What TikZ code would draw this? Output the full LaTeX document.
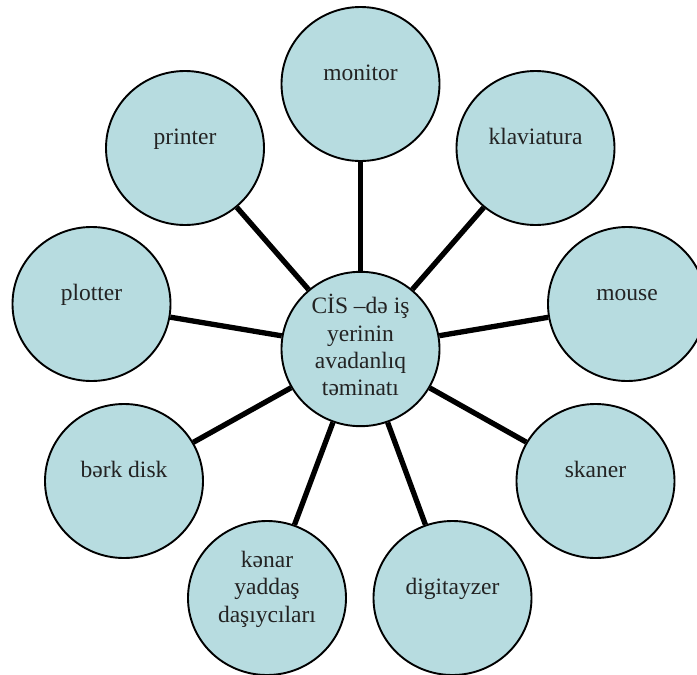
\documentclass[tikz,border=0pt]{standalone}
\usepackage{fontspec}
\setmainfont{Liberation Serif}
\usetikzlibrary{shapes.geometric}
\definecolor{bubblefill}{RGB}{183,220,224}
\definecolor{txt}{RGB}{35,35,35}
\tikzset{
  bubble/.style={ellipse, draw=black, line width=1.9pt, fill=bubblefill,
    minimum width=158pt, minimum height=154pt, inner sep=0pt, align=center,
    text=txt, font=\fontsize{23.5}{27.2}\selectfont},
  spoke/.style={line width=5.3pt, black}
}
\begin{document}
\begin{tikzpicture}[x=1pt,y=1pt]
\useasboundingbox (0,0) rectangle (697,-675);
\clip (0,0) rectangle (697,-675);
\node[bubble] (c)   at (360.5,-349) {\strut CİS –də iş\\yerinin\\avadanlıq\\təminatı\strut};
\node[bubble] (mon) at (360.5,-84)  {\strut monitor\\[-10pt]\strut};
\node[bubble] (kla) at (535.5,-148) {\strut klaviatura\\[-10pt]\strut};
\node[bubble] (pri) at (185,-148)   {\strut printer\\[-10pt]\strut};
\node[bubble] (plo) at (91.5,-304)  {\strut plotter\\[-10pt]\strut};
\node[bubble] (mou) at (627,-304)   {\strut mouse\\[-10pt]\strut};
\node[bubble] (bd)  at (124,-481)   {\strut bərk disk\\[-10pt]\strut};
\node[bubble] (ska) at (595.5,-481) {\strut skaner\\[-10pt]\strut};
\node[bubble] (ken) at (267,-598)   {\strut kənar\\yaddaş\\daşıycıları\\[-10pt]\strut};
\node[bubble] (dig) at (452.5,-598) {\strut digitayzer\\[-10pt]\strut};
\foreach \n in {mon,kla,pri,plo,mou,bd,ska,ken,dig}
  \draw[spoke] (c) -- (\n);
\end{tikzpicture}
\end{document}
